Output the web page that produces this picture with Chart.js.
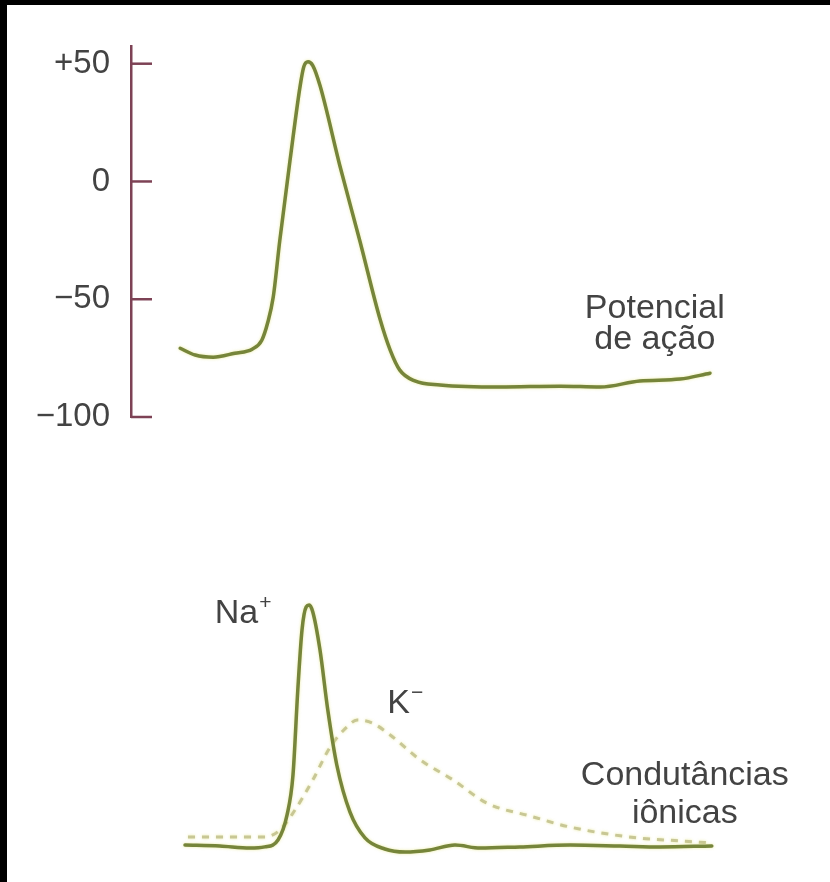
<!DOCTYPE html>
<html lang="pt">
<head>
<meta charset="utf-8">
<title>Potencial de ação e condutâncias iônicas</title>
<script src="https://cdn.jsdelivr.net/npm/chart.js@4.4.1/dist/chart.umd.min.js"></script>
<style>
  html, body { margin: 0; padding: 0; background: #000; }
  #sheet { position: absolute; left: 7px; top: 5px; width: 823px; height: 877px; background: #fff; overflow: hidden; }
  #sheet canvas { position: absolute; left: 0; }
  #potentialChart { top: 0; }
  #conductanceChart { top: 470px; }
</style>
</head>
<body>
<div id="sheet">
  <canvas id="potentialChart" width="823" height="470"></canvas>
  <canvas id="conductanceChart" width="823" height="407"></canvas>
</div>
<script>
// time base (arbitrary ms) and membrane potential (mV)
const apTime    = [8.2, 10.7, 13.7, 17.3, 20.2, 21.8, 22.8, 23.7, 24.8, 26.5, 28.2, 28.8, 29.5, 30.3, 31.5, 34.8, 38.2, 41.5, 43.2, 44.8, 47.3, 51.5, 61.5, 71.5, 78.2, 84.8, 91.5, 96.5];
const apVoltage = [-70.8, -73.7, -74.6, -72.9, -71.2, -67.4, -59.8, -49.2, -25.0, 8.9, 40.7, 48.7, 50.8, 49.2, 40.7, 6.8, -25.8, -58.4, -71.6, -80.1, -84.7, -86.4, -87.3, -86.9, -87.3, -84.7, -83.9, -81.4];

// sodium conductance (relative units)
const naTime        = [9.0, 14.8, 19.8, 22.3, 24.5, 26.0, 27.0, 27.8, 28.5, 29.2, 29.7, 30.3, 31.5, 32.8, 34.3, 36.5, 39.0, 42.3, 45.7, 49.8, 54.0, 58.2, 64.8, 73.2, 81.5, 88.2, 96.8];
const naConductance = [8.3, 8.0, 7.3, 7.7, 10.0, 18.3, 31.7, 60.0, 80.0, 87.7, 88.3, 86.0, 73.3, 53.3, 35.0, 19.3, 10.7, 7.0, 6.0, 6.7, 8.3, 7.3, 7.7, 8.3, 8.0, 7.7, 8.0];

// potassium conductance (relative units)
const kTime        = [9.5, 22.3, 24.8, 27.0, 30.3, 33.2, 36.0, 37.7, 40.2, 43.2, 48.2, 53.7, 59.3, 66.5, 73.2, 84.3, 91.5, 96.8];
const kConductance = [11.0, 11.0, 13.3, 19.0, 30.0, 41.0, 47.7, 50.0, 49.0, 45.0, 36.7, 30.0, 22.3, 18.0, 14.3, 10.7, 9.7, 9.0];

const voltageTicks      = [50, 0, -50, -100];
const voltageTickLabels = ['+50', '0', '−50', '−100'];

const TEXT_FONT = '"Liberation Sans", Arial, Helvetica, sans-serif';
const TEXT_COLOR = '#434343';
const TRACE_COLOR = '#76853a';
const DASH_COLOR = '#c8c795';
const AXIS_COLOR = '#7d4255';

const pairs = (xs, ys) => xs.map((x, i) => ({ x: x, y: ys[i] }));

// text labels placed in data coordinates
function labelPlugin(id, labels) {
  return {
    id: id,
    afterDatasetsDraw(chart) {
      const ctx = chart.ctx;
      const xs = chart.scales.x, ys = chart.scales.y;
      ctx.save();
      ctx.fillStyle = TEXT_COLOR;
      ctx.textBaseline = 'alphabetic';
      labels.forEach(l => {
        const px = xs.getPixelForValue(l.x);
        const py = ys.getPixelForValue(l.y);
        ctx.font = '34px ' + TEXT_FONT;
        ctx.textAlign = l.align || 'center';
        ctx.fillText(l.text, px, py);
        if (l.sup) {
          const w = ctx.measureText(l.text).width;
          let left = px;
          if (ctx.textAlign === 'center') left = px + w / 2;
          else if (ctx.textAlign === 'left') left = px + w;
          ctx.font = '21px ' + TEXT_FONT;
          ctx.textAlign = 'left';
          ctx.fillText(l.sup, left + 1, py - 14);
        }
      });
      ctx.restore();
    }
  };
}

// short tick marks pointing inward from the voltage axis
const inwardTicks = {
  id: 'inwardTicks',
  afterDraw(chart) {
    const ctx = chart.ctx;
    const y = chart.scales.y;
    const left = chart.chartArea.left;
    ctx.save();
    ctx.strokeStyle = AXIS_COLOR;
    ctx.lineWidth = 2.5;
    y.ticks.forEach(t => {
      const py = y.getPixelForValue(t.value);
      ctx.beginPath();
      ctx.moveTo(left, py);
      ctx.lineTo(left + 21, py);
      ctx.stroke();
    });
    ctx.restore();
  }
};

// faint yellow halo around the traces
const traceGlow = {
  id: 'traceGlow',
  beforeDatasetsDraw(chart) {
    chart.ctx.save();
    chart.ctx.shadowColor = 'rgba(225, 225, 120, 0.7)';
    chart.ctx.shadowBlur = 3;
  },
  afterDatasetsDraw(chart) {
    chart.ctx.restore();
  }
};

const traceStyle = {
  pointRadius: 0,
  borderWidth: 3.5,
  fill: false,
  cubicInterpolationMode: 'monotone',
  borderCapStyle: 'round',
  borderJoinStyle: 'round'
};

new Chart(document.getElementById('potentialChart'), {
  type: 'line',
  data: {
    datasets: [Object.assign({
      label: 'Potencial de ação',
      data: pairs(apTime, apVoltage),
      borderColor: TRACE_COLOR
    }, traceStyle)]
  },
  options: {
    responsive: false,
    animation: false,
    layout: { padding: { left: 0, right: 99, top: 40, bottom: 58 } },
    plugins: { legend: { display: false }, tooltip: { enabled: false } },
    scales: {
      x: { type: 'linear', min: 0, max: 100, display: false },
      y: {
        type: 'linear',
        min: -100,
        max: 57.6,
        afterBuildTicks: scale => { scale.ticks = voltageTicks.map(v => ({ value: v })); },
        afterFit: scale => { scale.width = 124; },
        grid: { display: false, drawTicks: false },
        border: { display: true, color: AXIS_COLOR, width: 2.5 },
        ticks: {
          padding: 21,
          color: TEXT_COLOR,
          font: { family: TEXT_FONT, size: 33 },
          callback: value => voltageTickLabels[voltageTicks.indexOf(value)]
        }
      }
    }
  },
  plugins: [traceGlow, inwardTicks, labelPlugin('apLabels', [
    { text: 'Potencial', x: 87.3, y: -58.0 },
    { text: 'de ação', x: 87.3, y: -71.2 }
  ])]
});

new Chart(document.getElementById('conductanceChart'), {
  type: 'line',
  data: {
    datasets: [
      Object.assign({
        label: 'Na+',
        data: pairs(naTime, naConductance),
        borderColor: TRACE_COLOR
      }, traceStyle),
      Object.assign({
        label: 'K−',
        data: pairs(kTime, kConductance),
        borderColor: DASH_COLOR
      }, traceStyle, { borderWidth: 3, borderDash: [7, 7], borderCapStyle: 'butt' })
    ]
  },
  options: {
    responsive: false,
    animation: false,
    layout: { padding: { left: 124, right: 99, top: 95, bottom: 12 } },
    plugins: { legend: { display: false }, tooltip: { enabled: false } },
    scales: {
      x: { type: 'linear', min: 0, max: 100, display: false },
      y: { type: 'linear', min: 0, max: 100, display: false }
    }
  },
  plugins: [traceGlow, labelPlugin('gLabels', [
    { text: 'Na', sup: '+', x: 21.2, y: 82.3, align: 'right' },
    { text: 'K', sup: '−', x: 42.7, y: 52.3, align: 'left' },
    { text: 'Condutâncias', x: 92.3, y: 28.3 },
    { text: 'iônicas', x: 92.3, y: 15.7 }
  ])]
});
</script>
</body>
</html>
